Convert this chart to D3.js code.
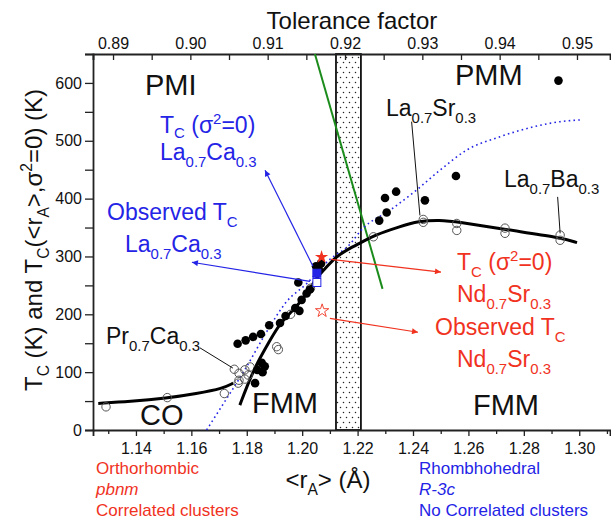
<!DOCTYPE html>
<html><head><meta charset="utf-8">
<script src="https://cdn.jsdelivr.net/npm/d3@7"></script>
<style>
body{margin:0;background:#fff;}
svg{display:block;font-family:Arial,"Liberation Sans",sans-serif;}
</style></head>
<body>
<svg id="c" width="611" height="522"></svg>
<script>
// ---------- data ----------
const xTickValues = [1.13,1.14,1.15,1.16,1.17,1.18,1.19,1.20,1.21,1.22,1.23,1.24,1.25,1.26,1.27,1.28,1.29,1.30,1.31];
const yTickValues = [0,50,100,150,200,250,300,350,400,450,500,550,600,650];
const tolTickValues = [0.89,0.895,0.90,0.905,0.91,0.915,0.92,0.925,0.93,0.935,0.94,0.945,0.95];

// filled black circles: observed Tc (r_A, Tc)
const tcFilled = [
 [1.1767,149],[1.1796,155],[1.1823,161],[1.1851,166],[1.1881,181],
 [1.1830,81],[1.1838,104],[1.1857,100],[1.1854,116],[1.1865,110],
 [1.1920,185],[1.1940,197],[1.1975,211],[1.1990,206],[1.1998,225],[1.2016,236],
 [1.1986,255],[1.2028,243],[1.2050,283],[1.2068,288],[1.2060,278],
 [1.2278,362],[1.2305,376],[1.2299,401],[1.2339,412],[1.2443,397],[1.2555,439],[1.2925,604]
];
// open circles
const tcOpen = [
 [1.1292,40],[1.1513,56],[1.1719,63],
 [1.1755,105],[1.1772,98],[1.1793,104],[1.1812,109],[1.1772,86],[1.1793,88],[1.1805,95],[1.1769,81],
 [1.1908,144],[1.1914,139],[1.1958,200],[1.2030,245],
 [1.2257,334],[1.2437,364],[1.2437,359],[1.2558,357],[1.2558,345],[1.2732,349],[1.2732,340],[1.2931,337],[1.2931,328]
];
const laCaSigma0 = [[1.2053,271]];   // filled blue square
const laCaObserved = [[1.2053,255]]; // open blue square
const ndSrSigma0 = [[1.2070,299]];   // filled red star
const ndSrObserved = [[1.2072,206]]; // open red star

// fitted curves
const fmCurve = [[1.1775,43],[1.1800,75],[1.1836,115],[1.1884,155],[1.1920,185],[1.1980,213],[1.2022,239],
 [1.2050,262],[1.2075,275],[1.2123,300],[1.2163,312],[1.2220,326],[1.2257,336],[1.2353,352],[1.2420,361],
 [1.2497,363],[1.2559,360],[1.2739,346],[1.2930,333],[1.2992,324]];
const coCurve = [[1.1264,46],[1.1378,49],[1.1511,55],[1.1619,63],[1.1715,72],[1.1751,81]];
const sigma0Curve = [[1.1655,0],[1.1715,45],[1.1794,105],[1.1872,170],[1.1944,222],[1.2016,253],[1.2100,295],
 [1.2166,318],[1.2220,349],[1.2317,380],[1.2413,415],[1.2497,449],[1.2594,484],[1.2714,507],[1.2834,524],
 [1.2931,533],[1.3003,536]];
const greenLine = [[1.2046,650],[1.2290,244]];
const band = [1.2122,1.2212];

// ---------- scales ----------
const svg = d3.select('#c');
svg.append('rect').attr('width',611).attr('height',522).attr('fill','#fff');
const x = d3.scaleLinear().domain([1.1245,1.3111]).range([93,610]);
const tol = d3.scaleLinear().domain([0.88741,0.95427]).range([93,610]);
const y = d3.scaleLinear().domain([0,650]).range([430,54]);

const BLUE='#2424e6', RED='#f0321e', GREEN='#1b8c1b', INK='#111';

// pattern
const defs = svg.append('defs');
const pat = defs.append('pattern').attr('id','dots').attr('patternUnits','userSpaceOnUse')
  .attr('width',6).attr('height',10);
pat.append('circle').attr('cx',1.5).attr('cy',2.5).attr('r',0.75).attr('fill','#222');
pat.append('circle').attr('cx',4.5).attr('cy',7.5).attr('r',0.75).attr('fill','#222');
function marker(id,color){
  defs.append('marker').attr('id',id).attr('viewBox','0 0 10 10').attr('refX',10).attr('refY',5)
   .attr('markerWidth',9).attr('markerHeight',6).attr('markerUnits','userSpaceOnUse').attr('orient','auto')
   .append('path').attr('d','M0,0L10,5L0,10z').attr('fill',color);
}
marker('ab',BLUE); marker('ar',RED);

// band
svg.append('rect').attr('x',x(band[0])).attr('y',y(650)).attr('width',x(band[1])-x(band[0]))
  .attr('height',y(0)-y(650)).attr('fill','url(#dots)').attr('stroke','#111').attr('stroke-width',1.8);

// axes
function styleAxis(g){
  g.select('.domain').attr('stroke','#222').attr('stroke-width',1.8);
  g.selectAll('.tick line').attr('stroke','#222').attr('stroke-width',1.3);
  g.selectAll('text').attr('font-size',16).attr('fill',INK).attr('font-family','Arial,"Liberation Sans",sans-serif');
}
const isMajor = (v,step)=>Math.abs(Math.round(v/step)*step - v) < 1e-6;
const gx = svg.append('g').attr('transform',`translate(0,${y(0)})`)
  .call(d3.axisBottom(x).tickValues(xTickValues).tickSizeOuter(0).tickSize(6).tickPadding(7)
    .tickFormat(d=>isMajor(d,0.02)?d3.format('.2f')(d):''));
gx.selectAll('.tick').filter(d=>!isMajor(d,0.02)).select('line').attr('y2',4);
styleAxis(gx);
const gt = svg.append('g').attr('transform',`translate(0,${y(650)})`)
  .call(d3.axisTop(tol).tickValues(tolTickValues).tickSizeOuter(0).tickSize(-6).tickPadding(5)
    .tickFormat(d=>isMajor(d,0.01)?d3.format('.2f')(d):''));
styleAxis(gt);
const gy = svg.append('g').attr('transform',`translate(${x.range()[0]},0)`)
  .call(d3.axisLeft(y).tickValues(yTickValues).tickSizeOuter(0).tickSize(8).tickPadding(3)
    .tickFormat(d=>d%100===0?d:''));
styleAxis(gy);

// lines
const line = d3.line().x(d=>x(d[0])).y(d=>y(d[1]));
svg.append('path').datum(greenLine).attr('d',line).attr('stroke',GREEN).attr('stroke-width',2).attr('fill','none');
svg.append('path').datum(sigma0Curve).attr('d',d3.line().x(d=>x(d[0])).y(d=>y(d[1])).curve(d3.curveMonotoneX)).attr('stroke',BLUE)
  .attr('stroke-width',1.6).attr('stroke-dasharray','1.6,3.2').attr('fill','none');
svg.append('path').datum(fmCurve).attr('d',d3.line().x(d=>x(d[0])).y(d=>y(d[1])).curve(d3.curveBasis))
  .attr('stroke','#000').attr('stroke-width',3).attr('fill','none');
svg.append('path').datum(coCurve).attr('d',d3.line().x(d=>x(d[0])).y(d=>y(d[1])).curve(d3.curveBasis))
  .attr('stroke','#000').attr('stroke-width',3).attr('fill','none');

// points
svg.append('g').selectAll('circle').data(tcOpen).join('circle')
  .attr('cx',d=>x(d[0])).attr('cy',d=>y(d[1])).attr('r',4.2)
  .attr('fill','none').attr('stroke','#555').attr('stroke-width',1);
svg.append('g').selectAll('circle').data(tcFilled).join('circle')
  .attr('cx',d=>x(d[0])).attr('cy',d=>y(d[1])).attr('r',4.3).attr('fill','#000');
svg.append('g').selectAll('rect').data(laCaObserved).join('rect')
  .attr('x',d=>x(d[0])-4).attr('y',d=>y(d[1])-4).attr('width',8).attr('height',8)
  .attr('fill','#fff').attr('stroke',BLUE).attr('stroke-width',1);
svg.append('g').selectAll('rect').data(laCaSigma0).join('rect')
  .attr('x',d=>x(d[0])-4).attr('y',d=>y(d[1])-4).attr('width',8).attr('height',8)
  .attr('fill',BLUE).attr('stroke',BLUE).attr('stroke-width',1);
const star = d3.symbol(d3.symbolStar).size(55);
svg.append('g').selectAll('path').data(ndSrSigma0).join('path')
  .attr('transform',d=>`translate(${x(d[0])},${y(d[1])})`).attr('d',star).attr('fill',RED);
svg.append('g').selectAll('path').data(ndSrObserved).join('path')
  .attr('transform',d=>`translate(${x(d[0])},${y(d[1])})`).attr('d',star).attr('fill','none')
  .attr('stroke',RED).attr('stroke-width',0.9);

// leader lines & arrows (data units)
const leaders = [
 {a:[1.1631,142],b:[1.1750,107]},
 {a:[1.2395,533],b:[1.2425,371]},
 {a:[1.2922,403],b:[1.2931,340]}
];
svg.append('g').selectAll('line').data(leaders).join('line')
  .attr('x1',d=>x(d.a[0])).attr('y1',d=>y(d.a[1])).attr('x2',d=>x(d.b[0])).attr('y2',d=>y(d.b[1]))
  .attr('stroke','#111').attr('stroke-width',1);
const arrows = [
 {a:[1.2039,283],b:[1.1866,449],c:BLUE,m:'ab'},
 {a:[1.2028,257],b:[1.1602,290],c:BLUE,m:'ab'},
 {a:[1.2104,295],b:[1.2501,273],c:RED,m:'ar'},
 {a:[1.2100,193],b:[1.2418,169],c:RED,m:'ar'}
];
svg.append('g').selectAll('line').data(arrows).join('line')
  .attr('x1',d=>x(d.a[0])).attr('y1',d=>y(d.a[1])).attr('x2',d=>x(d.b[0])).attr('y2',d=>y(d.b[1]))
  .attr('stroke',d=>d.c).attr('stroke-width',1.2).attr('marker-end',d=>`url(#${d.m})`);

// rich text helper
function rich(parent,xx,yy,parts,size,color,opts={}){
  const t = parent.append('text').attr('x',xx).attr('y',yy).attr('font-size',size).attr('fill',color);
  if(opts.anchor) t.attr('text-anchor',opts.anchor);
  if(opts.transform) t.attr('transform',opts.transform);
  if(opts.italic) t.attr('font-style','italic');
  let cur=0;
  const subS = size*(opts.sub||0.30), supS = size*0.40, small = size*0.65;
  parts.forEach(p=>{
    const s = typeof p==='string'?[p,'']:p;
    const target = s[1]==='sub'?subS:(s[1]==='sup'?-supS:0);
    const ts = t.append('tspan').attr('dy',target-cur).text(s[0]);
    if(s[1]) ts.attr('font-size',small);
    cur=target;
  });
  return t;
}
const A = svg.append('g');
// axis titles
rich(A,352,29,['Tolerance factor'],24,INK,{anchor:'middle'});
rich(A,328,488,['<r',['A','sub'],'> (Å)'],24,INK,{anchor:'middle'});
rich(A,0,0,['T',['C','sub'],' (K) and T',['C','sub'],'(<r',['A','sub'],'>,σ',['2','sup'],'=0) (K)'],24,INK,
  {anchor:'middle',transform:'translate(42,240) rotate(-90)'});

// region labels
rich(A,145,95,['PMI'],29,INK);
rich(A,455,85,['PMM'],29,INK);
rich(A,140,425,['CO'],29,INK);
rich(A,252,413,['FMM'],29,INK);
rich(A,473,415,['FMM'],29,INK);

// compound labels
rich(A,160,133,['T',['C','sub'],' (σ',['2','sup'],'=0)'],23,BLUE,{sub:0.2});
rich(A,160,160,['La',['0.7','sub'],'Ca',['0.3','sub']],23,BLUE);
rich(A,107,220,['Observed T',['C','sub']],23,BLUE);
rich(A,125,252,['La',['0.7','sub'],'Ca',['0.3','sub']],23,BLUE);
rich(A,106,344,['Pr',['0.7','sub'],'Ca',['0.3','sub']],23,INK);
rich(A,386,116,['La',['0.7','sub'],'Sr',['0.3','sub']],23,INK);
rich(A,504,187,['La',['0.7','sub'],'Ba',['0.3','sub']],23,INK);
rich(A,457,270,['T',['C','sub'],' (σ',['2','sup'],'=0)'],23,RED);
rich(A,457,302,['Nd',['0.7','sub'],'Sr',['0.3','sub']],23,RED);
rich(A,435,335,['Observed T',['C','sub']],23,RED);
rich(A,457,367,['Nd',['0.7','sub'],'Sr',['0.3','sub']],23,RED);

// structure notes
rich(A,96,474,['Orthorhombic'],17,RED);
rich(A,96,495,['pbnm'],17,RED,{italic:true});
rich(A,96,516,['Correlated clusters'],17,RED);
rich(A,419,474,['Rhombhohedral'],17,BLUE);
rich(A,419,495,['R-3c'],17,BLUE,{italic:true});
rich(A,419,516,['No Correlated clusters'],17,BLUE);
</script>
</body></html>
